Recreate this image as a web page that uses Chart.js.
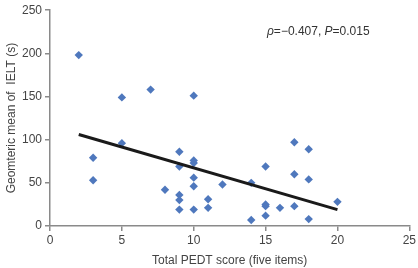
<!DOCTYPE html>
<html>
<head>
<meta charset="utf-8">
<script src="https://cdn.jsdelivr.net/npm/chart.js@4/dist/chart.umd.min.js"></script>
<style>
html,body{margin:0;padding:0;background:#fff;}
#c{display:block;}
</style>
</head>
<body>
<canvas id="c" width="418" height="268"></canvas>
<script>
const pedtScores = [2, 5, 7, 10, 3, 3, 5, 9, 9, 10, 10, 10, 10, 8, 9, 9, 9, 10, 11, 11, 12, 14, 14, 15, 15, 15, 15, 16, 17, 17, 17, 18, 18, 18, 20];
const ieltMeans  = [198, 149, 158, 151, 79, 53, 96, 86, 69, 76, 73, 56, 46, 42, 36, 30, 19, 19, 31, 21, 48, 50, 7, 69, 25, 23, 12, 21, 97, 60, 23, 89, 54, 8, 28];
const trendX = [2, 20];
const trendY = [106, 19];
const xTicks = [0, 5, 10, 15, 20, 25];
const yTicks = [0, 50, 100, 150, 200, 250];
const annotation = ['ρ', '=−0.407, ', 'P', '=0.015'];

const scatterPts = pedtScores.map((x, i) => ({x: x, y: ieltMeans[i]}));
const trendPts = trendX.map((x, i) => ({x: x, y: trendY[i]}));

const FONT = "'Liberation Sans', Arial, sans-serif";
const annoPlugin = {
  id: 'anno',
  afterDraw(chart) {
    const ctx = chart.ctx;
    ctx.save();
    ctx.fillStyle = '#333';
    ctx.textBaseline = 'middle';
    let x = 267, y = 32;
    annotation.forEach((s, i) => {
      ctx.font = (i % 2 === 0 ? 'italic ' : '') + '12px ' + FONT;
      ctx.fillText(s, x, y);
      x += ctx.measureText(s).width;
    });
    ctx.restore();
  }
};

new Chart(document.getElementById('c'), {
  type: 'scatter',
  data: {
    datasets: [
      {
        type: 'line',
        data: trendPts,
        borderColor: '#1a1a1a',
        borderWidth: 3,
        pointRadius: 0,
        fill: false,
        order: 0
      },
      {
        data: scatterPts,
        pointStyle: 'rectRot',
        pointRadius: 4.2,
        backgroundColor: '#4f78bd',
        borderColor: '#4f78bd',
        borderWidth: 0,
        order: 1
      }
    ]
  },
  options: {
    responsive: false,
    animation: false,
    layout: {padding: {top: 6, right: 7, left: 0, bottom: 0}},
    plugins: {legend: {display: false}, tooltip: {enabled: false}},
    scales: {
      x: {
        type: 'linear',
        min: 0, max: 25,
        afterBuildTicks: s => { s.ticks = xTicks.map(v => ({value: v})); },
        afterFit: s => { s.height = 42; },
        border: {color: '#8a8a8a', width: 1.5},
        grid: {drawOnChartArea: false, color: '#8a8a8a', tickLength: 5, lineWidth: 1.5},
        ticks: {color: '#444', font: {family: FONT, size: 12}, padding: 2, maxRotation: 0},
        title: {display: true, text: 'Total PEDT score (five items)', color: '#444', font: {family: FONT, size: 12}, padding: {top: 4, bottom: 0}}
      },
      y: {
        min: 0, max: 250,
        afterBuildTicks: s => { s.ticks = yTicks.map(v => ({value: v})); },
        afterFit: s => { s.width = 50; },
        border: {color: '#8a8a8a', width: 1.5},
        grid: {drawOnChartArea: false, color: '#8a8a8a', tickLength: 5, lineWidth: 1.5},
        ticks: {color: '#444', font: {family: FONT, size: 12}, padding: 3},
        title: {display: true, text: 'Geomteric mean of  IELT (s)', color: '#444', font: {family: FONT, size: 12}, padding: {bottom: 2}}
      }
    }
  },
  plugins: [annoPlugin]
});
</script>
</body>
</html>
